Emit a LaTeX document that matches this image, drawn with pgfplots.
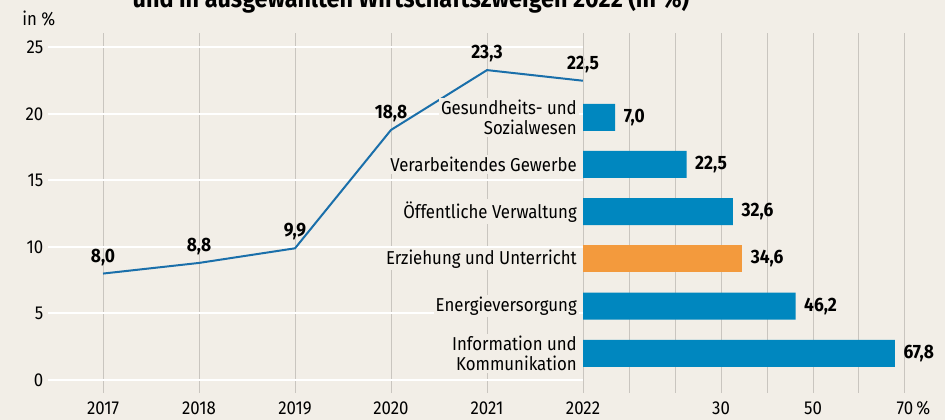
\documentclass[border=0pt]{standalone}
\usepackage{fontspec}
\setmainfont{Fira Sans}[FakeStretch=0.9]
\usepackage{pgfplots}
\pgfplotsset{compat=1.18}
\pgfplotsset{/pgf/number format/assume math mode=true}
\definecolor{bg}{HTML}{F2EEE7}
\definecolor{barblue}{HTML}{0087BF}
\definecolor{lineblue}{HTML}{1A6FAA}
\definecolor{orangebar}{HTML}{F39A3D}
\definecolor{vgrid}{HTML}{C9C5BF}
\begin{document}
\begin{tikzpicture}[font=\fontsize{14}{15.5}\selectfont]
\fill[bg] (0,0) rectangle (708.75pt,315pt);
\clip (0,0) rectangle (708.75pt,315pt);
\node[anchor=base, font=\fontsize{19.5}{21}\selectfont\bfseries] at (308.25pt,309pt) {und in ausgewählten Wirtschaftszweigen 2022 (in \%)};
\node[anchor=west, inner sep=0pt] at (16.5pt,300.75pt) {in \%};
\begin{axis}[
  at={(36pt,20.25pt)}, anchor=south west, scale only axis,
  width=401.25pt, height=270pt,
  xmin=2016.427, xmax=2022, ymin=-0.98, ymax=26.09,
  axis line style={draw=none}, major tick length=0pt,
  xtick={2017,2018,2019,2020,2021,2022}, ytick={0,5,10,15,20,25},
  x tick label style={/pgf/number format/1000 sep={}, yshift=-3pt},
  xmajorgrids=true, ymajorgrids=true,
  x grid style={vgrid, line width=0.75pt},
  y grid style={white, line width=1.5pt},
  clip=false,
]
\addplot[lineblue, line width=1.5pt, mark=none,
  nodes near coords,
  nodes near coords style={text=black, font=\fontsize{14.5}{15.5}\selectfont\bfseries, anchor=south, yshift=2pt,
    /pgf/number format/fixed, /pgf/number format/fixed zerofill,
    /pgf/number format/precision=1, /pgf/number format/use comma}]
  coordinates {(2017,8.0) (2018,8.8) (2019,9.9) (2020,18.8) (2021,23.3) (2022,22.5)};
\end{axis}
\begin{axis}[
  at={(437.25pt,20.25pt)}, anchor=south west, scale only axis,
  width=241.5pt, height=270pt,
  xmin=0, xmax=70, ymin=-0.841, ymax=6.786,
  xbar, bar width=20.25pt, bar shift=0pt,
  axis line style={draw=none}, major tick length=0pt,
  xmajorgrids=true, x grid style={vgrid, line width=0.75pt},
  xtick={0,10,20,30,40,50,60,70},
  xticklabels={,,,30,,50,,70\rlap{\,\%}},
  x tick label style={yshift=-3pt},
  ytick={0,1,2,3,4,5},
  yticklabels={{Information und\\Kommunikation},Energieversorgung,{Erziehung und Unterricht},{Öffentliche Verwaltung},{Verarbeitendes Gewerbe},{Gesundheits- und\\Sozialwesen}},
  yticklabel style={align=right, fill=bg, inner sep=1.5pt, xshift=-3pt},
  clip=false,
  nodes near coords,
  nodes near coords style={text=black, font=\fontsize{14.5}{15.5}\selectfont\bfseries, anchor=west, xshift=3pt,
    /pgf/number format/fixed, /pgf/number format/fixed zerofill,
    /pgf/number format/precision=1, /pgf/number format/use comma},
]
\addplot[fill=barblue, draw=none] coordinates {(67.8,0) (46.2,1) (32.6,3) (22.5,4) (7.0,5)};
\addplot[fill=orangebar, draw=none] coordinates {(34.6,2)};
\end{axis}
\end{tikzpicture}
\end{document}
